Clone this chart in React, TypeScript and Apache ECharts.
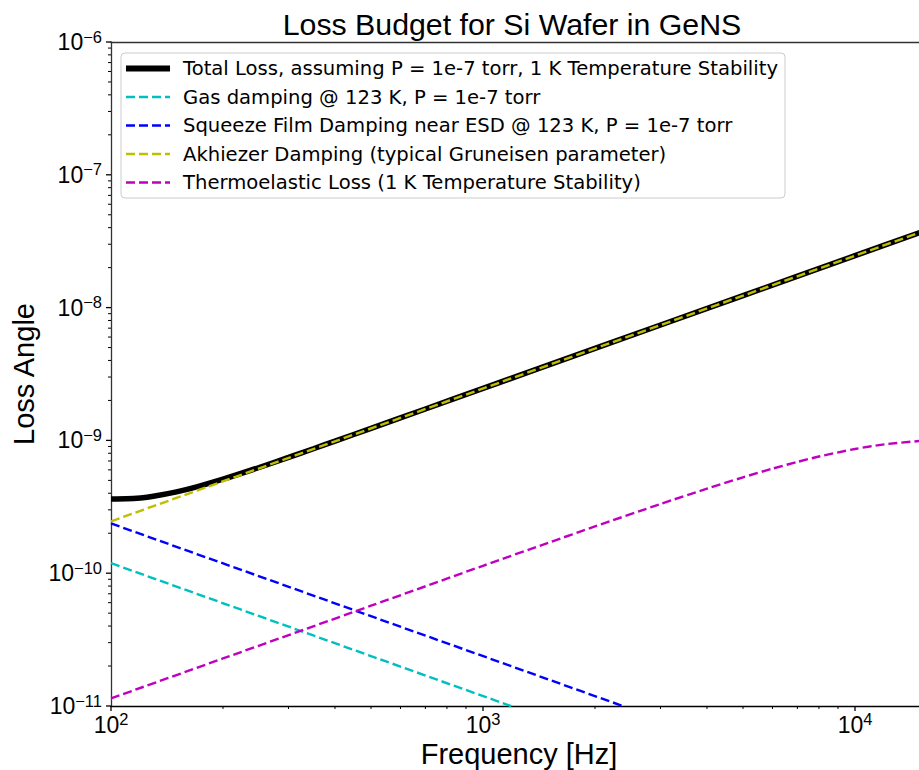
import React, { useEffect, useRef } from "react";
import * as echarts from "echarts";

// Labels
const TITLE = "Loss Budget for Si Wafer in GeNS";
const X_NAME = "Frequency [Hz]";
const Y_NAME = "Loss Angle";

// Axis extents (log scales)
const X_MIN = 100;
const X_MAX = 14860;
const Y_MIN = 1e-11;
const Y_MAX = 1e-6;

// Series labels and colours
const seriesNames = [
  "Total Loss, assuming P = 1e-7 torr, 1 K Temperature Stability",
  "Gas damping @ 123 K, P = 1e-7 torr",
  "Squeeze Film Damping near ESD @ 123 K, P = 1e-7 torr",
  "Akhiezer Damping (typical Gruneisen parameter)",
  "Thermoelastic Loss (1 K Temperature Stability)",
];
const seriesColors = ["#000000", "#00bfbf", "#0000ff", "#bfbf00", "#bf00bf"];

// Total loss
const totalFreq = [100, 110, 120, 130, 150, 170, 200, 250, 300, 350, 400, 500, 700, 1000, 2000, 5000, 10000, 15000];
const totalLoss = [
  3.62e-10, 3.63e-10, 3.69e-10, 3.8e-10, 4.1e-10, 4.47e-10, 5.1e-10, 6.25e-10, 7.44e-10, 8.65e-10,
  9.87e-10, 1.232e-9, 1.724e-9, 2.463e-9, 4.925e-9, 1.231e-8, 2.46e-8, 3.69e-8,
];

// Gas damping
const gasFreq = [100, 1200];
const gasLoss = [1.19e-10, 9.9e-12];

// Squeeze film damping
const squeezeFreq = [100, 2400];
const squeezeLoss = [2.37e-10, 9.9e-12];

// Akhiezer damping
const akhiezerFreq = [100, 15000];
const akhiezerLoss = [2.46e-10, 3.69e-8];

// Thermoelastic loss
const thermoFreq = [100, 200, 500, 1000, 1500, 2000, 3000, 4000, 5000, 6000, 7000, 8000, 10000, 12000, 15000];
const thermoLoss = [
  1.14e-11, 2.28e-11, 5.69e-11, 1.137e-10, 1.697e-10, 2.25e-10, 3.32e-10, 4.33e-10, 5.27e-10,
  6.13e-10, 6.89e-10, 7.56e-10, 8.62e-10, 9.34e-10, 9.91e-10,
];

// Tick positions
const xMajorTicks = [100, 1000, 10000];
const xMinorTicks = [200, 300, 400, 500, 600, 700, 800, 900, 2000, 3000, 4000, 5000, 6000, 7000, 8000, 9000];
const yMajorTicks = [1e-11, 1e-10, 1e-9, 1e-8, 1e-7, 1e-6];
const minorMantissas = [2, 3, 4, 5, 6, 7, 8, 9];
const yMinorTicks = yMajorTicks.slice(0, -1).flatMap((d) => minorMantissas.map((m) => m * d));

const pairs = (xs: number[], ys: number[]) => xs.map((x, i) => [x, ys[i]]);

const lineSeries = [
  pairs(totalFreq, totalLoss),
  pairs(gasFreq, gasLoss),
  pairs(squeezeFreq, squeezeLoss),
  pairs(akhiezerFreq, akhiezerLoss),
  pairs(thermoFreq, thermoLoss),
];

const DASH = [9, 4];
const TICK_FONT = "Liberation Sans";
const SPINE = "#333333";

function powerLabel(v: number): string {
  const e = Math.log10(v);
  const r = Math.round(e);
  if (Math.abs(e - r) > 1e-6) return "";
  const exp = r < 0 ? "\u2212" + String(-r) : String(r);
  return `{b|10}{s|${exp}}`;
}

const labelRich = {
  b: { fontSize: 23, fontFamily: TICK_FONT, color: "#000", lineHeight: 28 },
  s: { fontSize: 16.5, fontFamily: TICK_FONT, color: "#000", lineHeight: 16, verticalAlign: "top" },
};

export default function App() {
  const ref = useRef<HTMLDivElement>(null);

  useEffect(() => {
    if (!ref.current) return;
    const chart = echarts.init(ref.current, undefined, { renderer: "svg" });

    const tickData = [
      ...xMajorTicks.map((v) => [v, Y_MIN, 0]),
      ...xMinorTicks.map((v) => [v, Y_MIN, 1]),
      ...yMajorTicks.map((v) => [X_MIN, v, 2]),
      ...yMinorTicks.map((v) => [X_MIN, v, 3]),
    ];

    const legendRows = [68.5, 97, 125.5, 154, 182.5];
    const legendChildren: any[] = [
      {
        type: "rect",
        shape: { x: 121, y: 53, width: 664, height: 145, r: 4 },
        style: { fill: "rgba(255,255,255,0.8)", stroke: "#cccccc", lineWidth: 1 },
      },
    ];
    seriesNames.forEach((name, i) => {
      legendChildren.push({
        type: "line",
        shape: { x1: 126, y1: legendRows[i], x2: 170, y2: legendRows[i] },
        style: {
          stroke: seriesColors[i],
          lineWidth: i === 0 ? 6 : 2.4,
          lineDash: i === 0 ? null : DASH,
        },
      });
      legendChildren.push({
        type: "text",
        x: 183,
        y: legendRows[i],
        style: {
          text: name,
          fontSize: 19.6,
          fontFamily: "DejaVu Sans",
          fill: "#000",
          align: "left",
          verticalAlign: "middle",
        },
      });
    });

    const option: any = {
      animation: false,
      backgroundColor: "#ffffff",
      grid: { left: 111, right: 0, top: 42, bottom: 64, containLabel: false, outerBoundsMode: "none" },
      xAxis: [
        {
          type: "log",
          logBase: 10,
          min: X_MIN,
          max: X_MAX,
          position: "bottom",
          axisLine: { show: true, onZero: false, lineStyle: { color: "#000", width: 1.3 } },
          axisTick: { show: false },
          minorTick: { show: false },
          splitLine: { show: false },
          axisLabel: { formatter: powerLabel, rich: labelRich, margin: 4.5 },
        },
        {
          type: "log",
          logBase: 10,
          min: X_MIN,
          max: X_MAX,
          position: "top",
          axisLine: { show: true, onZero: false, lineStyle: { color: SPINE, width: 1.3 } },
          axisTick: { show: false },
          splitLine: { show: false },
          axisLabel: { show: false },
        },
      ],
      yAxis: {
        type: "log",
        logBase: 10,
        min: Y_MIN,
        max: Y_MAX,
        axisLine: { show: true, lineStyle: { color: SPINE, width: 1.3 } },
        axisTick: { show: false },
        minorTick: { show: false },
        splitLine: { show: false },
        axisLabel: { formatter: powerLabel, rich: labelRich, margin: 9 },
      },
      series: [
        ...lineSeries.map((data, i) => ({
          type: "line",
          name: seriesNames[i],
          data,
          xAxisIndex: 0,
          showSymbol: false,
          symbol: "none",
          silent: true,
          smooth: i === 0 || i === 4 ? 0.25 : false,
          z: 2 + i,
          lineStyle: {
            color: seriesColors[i],
            width: i === 0 ? 5.5 : 2.4,
            type: i === 0 ? "solid" : DASH,
            cap: "butt",
          },
        })),
        {
          type: "custom",
          data: tickData,
          xAxisIndex: 0,
          silent: true,
          clip: false,
          z: 10,
          encode: { x: 0, y: 1 },
          renderItem: (_params: any, api: any) => {
            const k = api.value(2);
            const p = api.coord([api.value(0), api.value(1)]);
            const major = k === 0 || k === 2;
            const len = major ? 5 : 3;
            const shape =
              k < 2
                ? { x1: p[0], y1: p[1], x2: p[0], y2: p[1] + len }
                : { x1: p[0] - len, y1: p[1], x2: p[0], y2: p[1] };
            return { type: "line", shape, style: { stroke: "#000", lineWidth: major ? 1.3 : 1 } };
          },
        },
      ],
      graphic: [
        {
          type: "text",
          x: 512,
          y: 24,
          style: {
            text: TITLE,
            fontSize: 30.3,
            fontFamily: "Liberation Sans",
            fill: "#000",
            align: "center",
            verticalAlign: "middle",
          },
        },
        {
          type: "text",
          x: 519,
          y: 754,
          style: {
            text: X_NAME,
            fontSize: 29,
            fontFamily: "Liberation Sans",
            fill: "#000",
            align: "center",
            verticalAlign: "middle",
          },
        },
        {
          type: "text",
          x: 24,
          y: 374,
          rotation: Math.PI / 2,
          style: {
            text: Y_NAME,
            fontSize: 29,
            fontFamily: "Liberation Sans",
            fill: "#000",
            align: "center",
            verticalAlign: "middle",
          },
        },
        { type: "group", z: 100, children: legendChildren },
      ],
    };

    chart.setOption(option);
    return () => chart.dispose();
  }, []);

  return (
    <div
      ref={ref}
      style={{ position: "fixed", left: 0, top: 0, width: 919, height: 770, background: "#fff" }}
    />
  );
}
